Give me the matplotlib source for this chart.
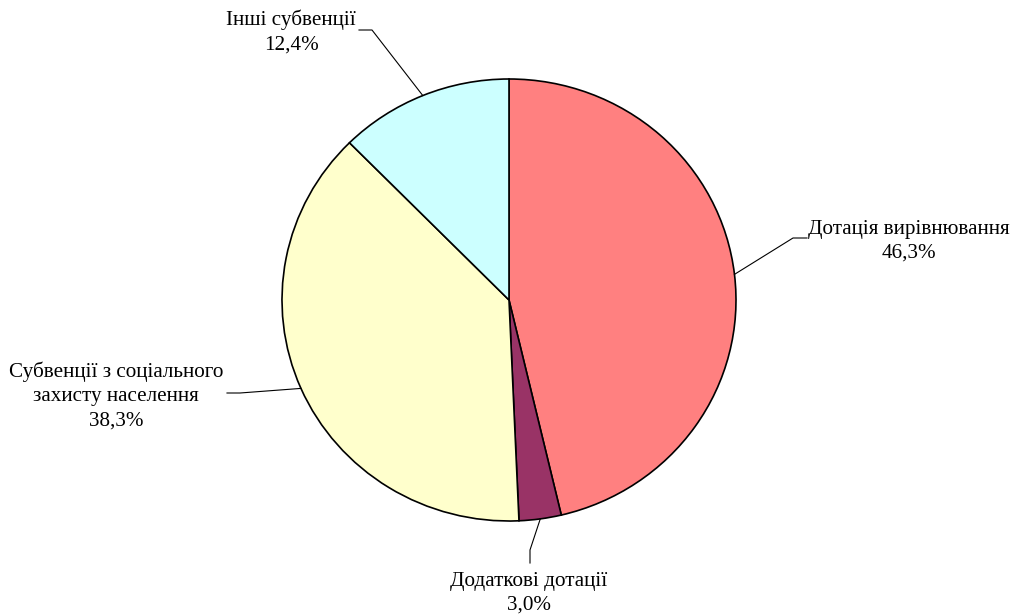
import matplotlib.pyplot as plt
import numpy as np

labels = ['Дотація вирівнювання', 'Додаткові дотації',
          'Субвенції з соціального\nзахисту населення', 'Інші субвенції']
shares = [46.3, 3.0, 38.3, 12.4]
colors = ['#FF8080', '#993366', '#FFFFCC', '#CCFFFF']

plt.rcParams['font.family'] = ['Liberation Serif', 'DejaVu Serif']

W, H = 1014, 614
cx, cy = 509, 300      # pie centre in pixels
rx, ry = 227, 221      # pie radii in pixels

fig = plt.figure(figsize=(W / 100, H / 100), dpi=100)
ax = fig.add_axes([0, 0, 1, 1])

wedges, _ = ax.pie(shares, colors=colors, startangle=90, counterclock=False,
                   wedgeprops=dict(edgecolor='black', linewidth=1.2))

ax.set_aspect('auto')
ax.set_xlim(-cx / rx, (W - cx) / rx)
ax.set_ylim(-(H - cy) / ry, cy / ry)
ax.axis('off')


def px(x, y):
    # pixel position -> data coordinates
    return (x - cx) / rx, (cy - y) / ry


# label centre and elbow of leader line (pixels)
text_pos = [(909, 241), (529, 593), (116, 396), (291, 32)]
elbows = [[(793, 238), (807, 238)],
          [(530, 550), (530, 563)],
          [(240, 393), (227, 393)],
          [(372, 30), (359, 30)]]

for w, lab, val, tp, el in zip(wedges, labels, shares, text_pos, elbows):
    ang = np.deg2rad((w.theta1 + w.theta2) / 2)
    pts = [(np.cos(ang), np.sin(ang))] + [px(*p) for p in el]
    xs, ys = zip(*pts)
    ax.plot(xs, ys, color='black', lw=0.8)
    tx, ty = px(*tp)
    txt = lab + '\n' + ('%.1f%%' % val).replace('.', ',')
    ax.text(tx, ty, txt, ha='center', va='center', fontsize=15.2,
            linespacing=1.35)

fig.savefig('out.png', dpi=100)
